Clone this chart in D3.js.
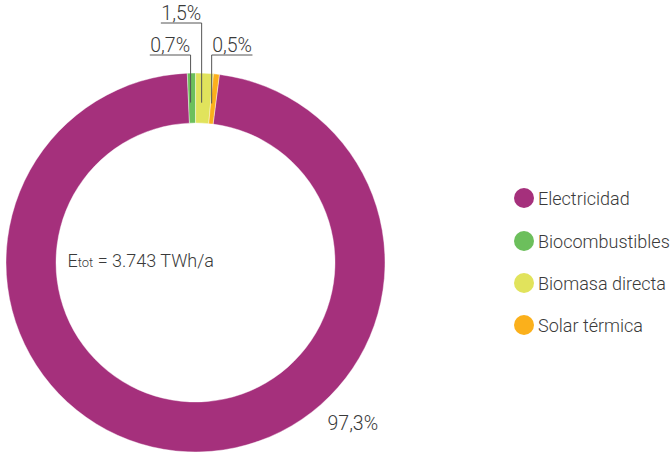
<!DOCTYPE html>
<html><head><meta charset="utf-8">
<script src="https://cdn.jsdelivr.net/npm/d3@7"></script>
<style>body{margin:0;background:#fff}svg{display:block}text{font-family:Roboto,"Liberation Sans",sans-serif;font-weight:300;fill:#3a3a3a}</style>
</head><body>
<script>
const categories = ["Electricidad", "Biocombustibles", "Biomasa directa", "Solar térmica"];
const values = [97.3, 0.7, 1.5, 0.5];
const valueLabels = ["97,3%", "0,7%", "1,5%", "0,5%"];
const colors = ["#a5307c", "#6cbf5c", "#e1e35c", "#fbb01b"];
const totalLabel = ["E", "tot", " = 3.743 TWh/a"];

const W = 671, H = 453;
const svg = d3.select("body").append("svg").attr("width", W).attr("height", H);
const cx = 195.5, cy = 262.5, R = 189.5, r0 = 139.5;
const start = 7.24 * Math.PI / 180;
const pie = d3.pie().sort(null).value(d => d).startAngle(start).endAngle(start + 2 * Math.PI);
const arcs = pie(values);
const arc = d3.arc().innerRadius(r0).outerRadius(R);
const g = svg.append("g").attr("transform", `translate(${cx},${cy})`);
g.selectAll("path").data(arcs).join("path")
  .attr("d", arc).attr("fill", (d, i) => colors[i])
  .attr("stroke", "#fff").attr("stroke-width", 0.4);

// leader labels for small slices
const labelY = [null, 55, 23, 55];
const side = [null, -1, -1, 1];
const fs = 18, nfs = 19.5;
for (let i = 1; i < 4; i++) {
  const a = (arcs[i].startAngle + arcs[i].endAngle) / 2;
  const x = cx + 160 * Math.sin(a) - 1.5;
  const yEnd = cy - 160 * Math.cos(a);
  const t = svg.append("text").attr("font-size", nfs).attr("y", labelY[i] - 3).text(valueLabels[i]);
  const w = t.node().getComputedTextLength();
  const x0 = side[i] < 0 ? x - w - 1 : x;
  t.attr("x", x0 + 0.5);
  svg.append("path")
    .attr("d", `M${side[i] < 0 ? x0 : x0 + w + 1},${labelY[i]}H${x}V${yEnd}`)
    .attr("fill", "none").attr("stroke", "#555").attr("stroke-width", 1);
}
svg.append("text").attr("font-size", nfs).attr("x", 327.5).attr("y", 429.5).text(valueLabels[0]);

// total label
const tl = svg.append("text").attr("font-size", fs).attr("x", 67.5).attr("y", 267);
tl.append("tspan").text(totalLabel[0]);
tl.append("tspan").attr("font-size", 13).text(totalLabel[1]);
tl.append("tspan").text(totalLabel[2]);

// legend
const legY = [198, 241, 283, 325];
const lg = svg.append("g");
categories.forEach((c, i) => {
  lg.append("circle").attr("cx", 524).attr("cy", legY[i]).attr("r", 10).attr("fill", colors[i]);
  lg.append("text").attr("font-size", fs).attr("x", 538).attr("y", legY[i] + 6.5).text(c);
});
</script>
</body></html>
